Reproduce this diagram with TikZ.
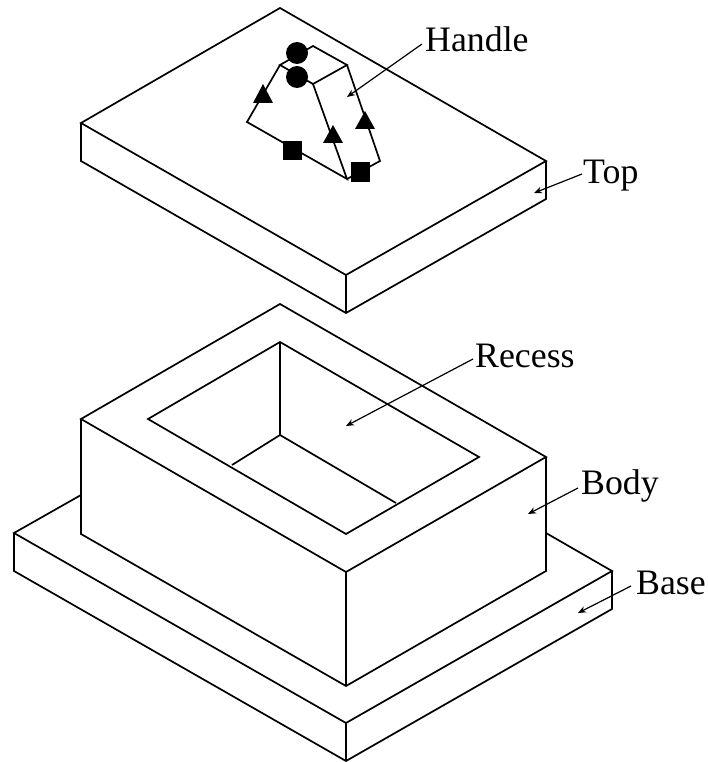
\documentclass[tikz,border=0pt]{standalone}
\usepackage{fontspec}
\setmainfont{Liberation Serif}
\usetikzlibrary{arrows.meta}
\tikzset{
  edge/.style={line width=1.7pt,line join=miter,black},
  lead/.style={line width=1.2pt,black,-{Stealth[length=8pt,width=6.5pt]}},
  lbl/.style={anchor=base west,inner sep=0pt,font=\fontsize{35.8}{36}\selectfont},
  dot/.style={circle,fill=black,minimum size=22pt,inner sep=0pt},
  tri/.style={fill=black},
  sq/.style={rectangle,fill=black,minimum size=19pt,inner sep=0pt}
}
\begin{document}
\begin{tikzpicture}[x=1pt,y=-1pt]
\useasboundingbox (0,0) rectangle (708,762);
% Top slab
\draw[edge] (280,8) -- (546,161) -- (346,275) -- (81,123) -- cycle;
\draw[edge] (81,123) -- (81,161) -- (346,313) -- (546,199) -- (546,161);
\draw[edge] (346,275) -- (346,313);
% Handle
\draw[edge] (280,65) -- (313,46) -- (347,65) -- (313,84) -- cycle;
\draw[edge] (280,65) -- (247,122) -- (347,179) -- (313,84);
\draw[edge] (347,65) -- (380,161) -- (347,179);
\node[dot] (c1) at (297,53) {};
\node[dot] (c2) at (297,77) {};
\fill[tri] (263,84) -- (273,103) -- (253,103) -- cycle;
\fill[tri] (333,125) -- (343,143) -- (323,143) -- cycle;
\fill[tri] (365,111) -- (375,129) -- (355,129) -- cycle;
\node[sq] (s1) at (292,151) {};
\node[sq] (s2) at (360,172) {};
% Base
\draw[edge] (81,495) -- (14,533) -- (346,723) -- (612,571) -- (546,533);
\draw[edge] (14,533) -- (14,571) -- (346,761) -- (612,609) -- (612,571);
\draw[edge] (346,723) -- (346,761);
% Body
\draw[edge] (280,304) -- (546,457) -- (346,572) -- (81,419) -- cycle;
\draw[edge] (81,419) -- (81,534) -- (346,686) -- (546,571) -- (546,457);
\draw[edge] (346,572) -- (346,686);
% Recess
\draw[edge] (280,342) -- (479,457) -- (346,534) -- (148,419) -- cycle;
\draw[edge] (280,342) -- (280,435);
\draw[edge] (232,465) -- (280,435) -- (396,503);
% Labels
\node[lbl] (handle) at (425,52) {Handle};
\node[lbl] (top) at (583,183) {Top};
\node[lbl] (recess) at (475,367) {Recess};
\node[lbl] (body) at (581,494) {Body};
\node[lbl] (base) at (636,594) {Base};
% Leader ends
\coordinate (hs) at (422,44);
\coordinate (ht) at (347,97);
\coordinate (ts) at (582,174);
\coordinate (tt) at (534,193);
\coordinate (rs) at (473,359);
\coordinate (rt) at (346,426);
\coordinate (bs) at (578,488);
\coordinate (bt) at (528,514);
\coordinate (as) at (631,586);
\coordinate (at) at (578,613);
\draw[lead] (hs) -- (ht);
\draw[lead] (ts) -- (tt);
\draw[lead] (rs) -- (rt);
\draw[lead] (bs) -- (bt);
\draw[lead] (as) -- (at);
\end{tikzpicture}
\end{document}
